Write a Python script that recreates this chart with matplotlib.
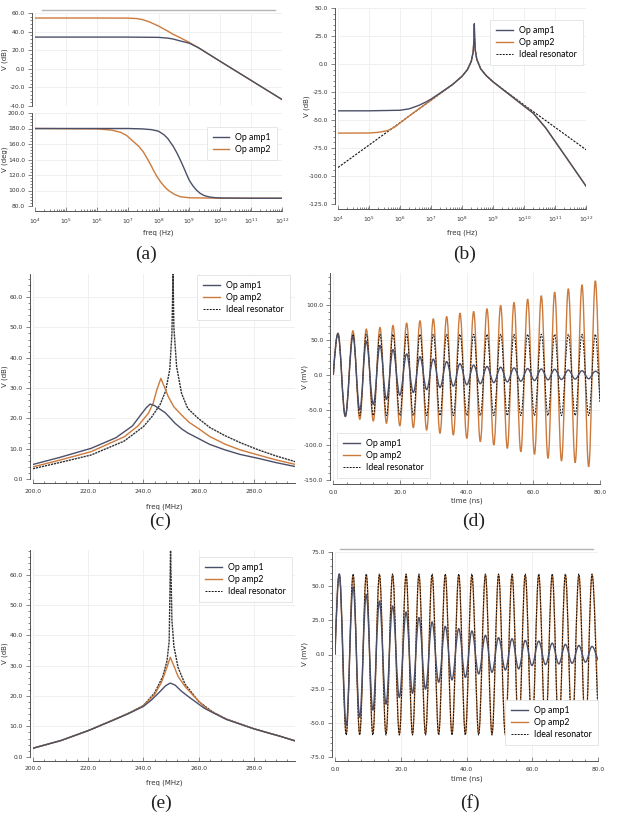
import matplotlib
matplotlib.use("Agg")
import matplotlib.pyplot as plt
from matplotlib.path import Path
from matplotlib.patches import PathPatch
from matplotlib.lines import Line2D
from matplotlib.ticker import (AutoMinorLocator, MultipleLocator, LogLocator, FixedLocator,
                               FormatStrFormatter, NullFormatter)

# ---------------- data ----------------
# (a) open loop gain / phase of the two op amps
fa_mag1 = [1e4, 1e5, 1e6, 1e7, 1e8, 2e8, 3e8, 5e8, 1e9, 2e9, 1e10, 1e11, 1e12]
mag_a1 = [34.1, 34.1, 34.1, 34.1, 33.8, 33.0, 32.0, 30.0, 27.5, 22.5, 8.0, -12.5, -33.0]
fa_mag2 = [1e4, 1e6, 1e7, 2e7, 3e7, 5e7, 1e8, 2e8, 3e8, 5e8, 1e9, 2e9, 1e10, 1e11, 1e12]
mag_a2 = [54.6, 54.6, 54.5, 54.0, 53.0, 50.5, 46.0, 40.5, 37.0, 33.5, 28.3, 22.5, 8.0, -12.5, -33.0]
fa_ph1 = [1e4, 1e7, 3e7, 6e7, 1e8, 1.5e8, 2e8, 3e8, 4e8, 5e8, 6e8, 7e8, 8e8, 1e9, 1.3e9,
          1.7e9, 2.2e9, 3e9, 4.5e9, 7e9, 1.2e10, 1e11, 1e12]
ph_a1 = [180, 180, 179.5, 178.5, 176.5, 172, 167, 157, 148, 140, 133, 127, 121.5, 113, 106,
         100.5, 96.5, 93.5, 91.6, 90.7, 90.3, 90, 90]
fa_ph2 = [1e4, 1e6, 3e6, 6e6, 9.3e6, 1.55e7, 2.3e7, 3.2e7, 4.5e7, 5.7e7, 6.9e7, 8.5e7,
          1e8, 1.2e8, 1.45e8, 1.8e8, 2.2e8, 3.3e8, 5e8, 1e9, 1e10, 1e12]
ph_a2 = [180, 179.5, 178, 175, 171, 163, 157, 150, 140, 132.5, 126, 119.5,
         115, 110.5, 106.5, 102.5, 99.5, 95, 92, 90.6, 90.1, 90]

# (b) resonator magnitude, wide band
fb_i = [1e4, 1e5, 1e6, 1e7, 5e7, 1e8, 1.5e8, 2e8, 2.3e8, 2.45e8, 2.5e8, 2.55e8, 2.7e8,
        3e8, 4e8, 6e8, 1e9, 1e10, 1e11, 1e12]
vb_i = [-92.4, -72.4, -52.4, -32.4, -18.3, -11.0, -5.0, 2.5, 11.1, 23.4, 36.0, 23.6, 11.8,
        4.2, -4.3, -10.3, -15.9, -36.5, -56.5, -76.5]
fb_1 = [1e4, 1e5, 1e6, 2e6, 4e6, 7e6, 1e7, 2e7, 5e7, 1e8, 1.5e8, 2e8, 2.3e8, 2.45e8,
        2.5e8, 2.55e8, 2.7e8, 3e8, 4e8, 6e8, 1e9, 1e10, 2e10, 5e10, 1e11, 3e11, 1e12]
vb_1 = [-41.8, -41.8, -41.3, -40.0, -37.0, -33.8, -31.3, -25.8, -18.2, -11.0, -5.0, 2.5,
        11.1, 23.4, 36.0, 23.6, 11.8, 4.2, -4.3, -10.3, -15.9, -37.5, -44.0, -57.0,
        -69.0, -88.0, -109.0]
fb_2 = [1e4, 1e5, 2e5, 4e5, 7e5, 1e6, 2e6, 4e6, 7e6, 1e7, 2e7, 5e7, 1e8, 1.5e8, 2e8,
        2.3e8, 2.45e8, 2.5e8, 2.55e8, 2.7e8, 3e8, 4e8, 6e8, 1e9, 1e10, 2e10, 5e10, 1e11,
        3e11, 1e12]
vb_2 = [-61.7, -61.6, -61.0, -59.5, -56.0, -52.6, -46.3, -40.2, -35.4, -32.3, -26.2,
        -18.3, -11.0, -5.0, 2.5, 11.0, 23.2, 32.0, 23.4, 11.8, 4.2, -4.3, -10.3, -15.9,
        -37.5, -44.0, -57.0, -69.0, -88.0, -109.0]

# (c) zoom around resonance, detuned op amps
fc_i = [200, 210, 221, 233, 240, 243, 246, 248, 249.5, 250.3, 250.7, 251, 252, 253.8,
        256, 259.8, 264, 269.5, 275, 281.6, 288, 295]
vc_i = [3.4, 5.5, 7.9, 12.5, 17.3, 20.5, 24.5, 29.0, 36.0, 48.0, 68.0, 50.0, 37.0, 28.2,
        23.3, 20.0, 17.0, 14.3, 12.0, 9.6, 7.6, 5.7]
fc_1 = [200, 210, 221, 230, 236, 239.3, 241, 242.4, 244, 246, 247.8, 249.5, 251.4, 254,
        256, 259.8, 264, 269.5, 275, 281.6, 288, 295]
vc_1 = [4.8, 7.2, 10.1, 13.6, 17.5, 21.5, 23.5, 24.7, 24.2, 23.0, 21.9, 20.3, 18.4, 16.4,
        15.2, 13.4, 11.4, 9.6, 8.1, 6.8, 5.4, 4.1]
fc_2 = [200, 210, 221, 233, 238, 241.8, 243.5, 244.8, 246.3, 247.5, 249, 251, 253.8,
        256.5, 259.8, 264, 269.5, 275, 281.6, 288, 295]
vc_2 = [4.0, 6.3, 9.0, 13.9, 17.5, 21.7, 25.0, 29.3, 33.2, 30.5, 27.1, 23.8, 21.1, 18.7,
        16.7, 14.0, 11.5, 9.6, 7.9, 6.3, 4.8]

# (e) zoom around resonance, compensated op amps
fe_i = [200, 210, 220, 230, 235, 240, 244, 247, 248.5, 249.3, 249.8, 250.3, 251, 252.5,
        255, 260, 265, 270, 280, 290, 295]
ve_i = [2.8, 5.3, 8.6, 12.5, 14.5, 16.9, 21.0, 26.5, 31.5, 38.0, 68.0, 45.0, 36.5, 29.5,
        24.0, 18.2, 14.8, 12.4, 9.2, 6.6, 5.2]
fe_1 = [200, 210, 220, 230, 235, 240, 243, 246, 248, 249.7, 251.5, 253.5, 256, 259, 262,
        265, 270, 280, 290, 295]
ve_1 = [2.8, 5.3, 8.6, 12.4, 14.4, 16.6, 18.8, 21.5, 23.4, 24.3, 23.6, 21.8, 20.0, 18.0,
        16.0, 14.6, 12.3, 9.2, 6.6, 5.2]
fe_2 = [200, 210, 220, 230, 235, 240, 244, 246.5, 248.3, 249.7, 251, 252.5, 255, 258,
        262, 265, 270, 280, 290, 295]
ve_2 = [2.8, 5.3, 8.6, 12.5, 14.5, 16.8, 20.5, 24.5, 29.0, 32.8, 30.0, 26.5, 23.2, 20.2,
        16.5, 14.7, 12.4, 9.2, 6.6, 5.2]

# (d) transient, detuned: peak / trough times (ns) and values (mV)
td_pk = [1.4, 5.9, 9.9, 14.0, 17.9, 22.0, 26.0, 30.0, 34.0, 38.0, 42.1, 46.1, 50.2, 54.2,
         58.3, 62.4, 66.4, 70.5, 74.6, 78.6]
td_tr = [3.6, 7.95, 12.0, 15.95, 19.95, 24.0, 28.0, 32.0, 36.0, 40.05, 44.1, 48.15, 52.2,
         56.25, 60.35, 64.4, 68.45, 72.55, 76.6]
d_ideal_pk = [58, 58, 58, 58, 58, 58, 58, 58, 58, 58, 58, 58, 58, 58, 58, 58, 58, 58, 58, 58]
d_ideal_tr = [-58, -58, -58, -58, -58, -58, -58, -58, -58, -58, -58, -58, -58, -58, -58,
              -58, -58, -58, -58]
d_amp2_pk = [59.5, 62.9, 65.3, 67.6, 70.5, 73.8, 77.1, 80.0, 83.3, 88.1, 90.5, 94.3, 99.0,
             103.3, 108.1, 112.9, 118.1, 122.9, 128.6, 134.3]
d_amp2_tr = [-59.5, -63.3, -65.7, -69.0, -72.4, -75.2, -78.6, -83.3, -85.7, -90.5, -95.2,
             -100.0, -104.8, -109.5, -113.3, -119.0, -122.8, -125.2, -131.0]
d_amp1_pk = [59.0, 55.0, 48.0, 42.0, 36.0, 30.0, 26.0, 22.5, 19.0, 16.0, 14.0, 12.0, 11.0,
             10.0, 9.0, 8.5, 8.0, 7.0, 6.0, 5.2]
d_amp1_tr = [-59.0, -50.0, -42.0, -35.0, -29.0, -25.0, -21.0, -18.0, -16.0, -14.0, -12.5,
             -11.0, -10.0, -9.0, -8.0, -7.0, -6.5, -6.0, -5.5]
d_end = {"ideal": -40.0, "amp2": -35.0, "amp1": 1.0}

# (f) transient, compensated
tf_pk = [1.3, 5.5, 9.5, 13.5, 17.5, 21.6, 25.5, 29.5, 33.5, 37.6, 41.6, 45.7, 49.7, 53.8,
         57.8, 61.9, 66.0, 70.0, 74.1, 78.1]
tf_tr = [3.4, 7.5, 11.5, 15.5, 19.55, 23.55, 27.5, 31.5, 35.55, 39.6, 43.65, 47.7, 51.75,
         55.8, 59.85, 63.95, 68.0, 72.05, 76.1]
f_ideal_pk = [59, 59, 59, 59, 59, 59, 59, 59, 59, 59, 59, 59, 59, 59, 59, 59, 59, 59, 59, 59]
f_ideal_tr = [-59, -59, -59, -59, -59, -59, -59, -59, -59, -59, -59, -59, -59, -59, -59,
              -59, -59, -59, -59]
f_amp2_pk = [58, 58, 58, 58, 58, 58, 58, 58, 58, 58, 58, 58, 58, 58, 58, 58, 58, 58, 58, 58]
f_amp2_tr = [-58, -58, -58, -58, -58, -58, -58, -58, -58, -58, -58, -58, -58, -58, -58,
             -58, -58, -58, -58]
f_amp1_pk = [59.0, 49.5, 44.0, 39.0, 35.5, 31.0, 27.0, 23.8, 20.6, 18.9, 17.2, 14.0, 12.3,
             11.5, 10.3, 9.8, 8.3, 7.4, 6.6, 5.9]
f_amp1_tr = [-52.0, -46.0, -40.7, -36.3, -31.4, -28.4, -25.2, -20.3, -18.6, -16.7, -14.2,
             -13.0, -11.3, -10.5, -8.0, -7.4, -6.9, -6.4, -5.6]
f_end = {"ideal": -52.0, "amp2": -40.0, "amp1": -4.4}

labels = ["Op amp1", "Op amp2", "Ideal resonator"]
decades = [1e4, 1e5, 1e6, 1e7, 1e8, 1e9, 1e10, 1e11, 1e12]

# ---------------- styling ----------------
C1 = "#4b5068"
C2 = "#cc7a3c"
CI = "#111111"
DASH = (0, (2.0, 1.2))
DENSE = (0, (1.6, 0.6))
W, H = 618, 819
TICK_FS = 4.3
LAB_FS = 5.0

fig = plt.figure(figsize=(W / 100, H / 100), dpi=100)


def add_ax(x0, x1, y0, y1):
    # pixel box -> figure fraction
    return fig.add_axes([x0 / W, 1 - y1 / H, (x1 - x0) / W, (y1 - y0) / H])


def style(ax, ymaj, ylim, xaxis=True):
    ax.set_ylim(*ylim)
    for s in ["top", "right"]:
        ax.spines[s].set_visible(False)
    ax.spines["left"].set_position(("outward", 2.2))
    ax.spines["bottom"].set_position(("outward", 3))
    for s in ["left", "bottom"]:
        ax.spines[s].set_color("#555555")
        ax.spines[s].set_linewidth(0.7)
    ax.yaxis.set_major_locator(MultipleLocator(ymaj))
    ax.yaxis.set_minor_locator(AutoMinorLocator(5))
    ax.yaxis.set_major_formatter(FormatStrFormatter("%.1f"))
    ax.tick_params(axis="y", which="both", direction="out", labelsize=TICK_FS,
                   colors="#555555", labelcolor="#333333", pad=2, width=0.5)
    ax.tick_params(axis="y", which="major", length=3)
    ax.tick_params(axis="y", which="minor", length=1.8)
    ax.tick_params(axis="x", which="both", direction="in", labelsize=TICK_FS,
                   colors="#555555", labelcolor="#333333", pad=4, width=0.5)
    ax.tick_params(axis="x", which="major", length=3)
    ax.tick_params(axis="x", which="minor", length=1.8)
    ax.grid(True, which="major", color="#eeeeee", lw=0.6)
    ax.set_axisbelow(True)
    if not xaxis:
        ax.spines["bottom"].set_visible(False)
        ax.tick_params(axis="x", which="both", bottom=False, labelbottom=False)


def log_x(ax):
    ax.set_xscale("log")
    ax.set_xlim(1e4, 1e12)
    ax.xaxis.set_major_locator(FixedLocator(decades))
    ax.xaxis.set_minor_locator(LogLocator(base=10, subs=range(2, 10), numticks=100))
    ax.xaxis.set_minor_formatter(NullFormatter())


def lin_x(ax, lo, hi, step):
    ax.set_xlim(lo, hi)
    ax.xaxis.set_major_locator(MultipleLocator(step))
    ax.xaxis.set_minor_locator(AutoMinorLocator(5))
    ax.xaxis.set_major_formatter(FormatStrFormatter("%.1f"))


def ylab(ax, text, px, box):
    x0, x1 = box
    ax.set_ylabel(text, fontsize=LAB_FS, color="#333333")
    ax.yaxis.set_label_coords((px - x0) / (x1 - x0), 0.5)


def xlab(ax, text, py, box):
    y0, y1 = box
    ax.set_xlabel(text, fontsize=LAB_FS, color="#333333")
    ax.xaxis.set_label_coords(0.5, (y1 - py) / (y1 - y0))


def handles(n):
    h = [Line2D([], [], color=C1, lw=1.0), Line2D([], [], color=C2, lw=1.0),
         Line2D([], [], color=CI, lw=0.7, ls=DASH)]
    return h[:n]


def legend(ax, n, loc, px, py):
    leg = ax.legend(handles(n), labels[:n], loc=loc,
                    bbox_to_anchor=(px / W, 1 - py / H),
                    bbox_transform=fig.transFigure,
                    prop={"family": "Lato", "size": 6.3},
                    frameon=True, fancybox=False, framealpha=1,
                    edgecolor="#e2e2e2", handlelength=1.9, handletextpad=0.7,
                    labelspacing=0.35, borderpad=0.7, borderaxespad=0)
    leg.get_frame().set_linewidth(0.6)


def merge(tp, vp, tt, vt, t_end, v_end):
    t, v = [0.0], [0.0]
    for i in range(len(tp)):
        t.append(tp[i]); v.append(vp[i])
        if i < len(tt):
            t.append(tt[i]); v.append(vt[i])
    t.append(t_end); v.append(v_end)
    return t, v


def wave(ax, t, v, **kw):
    # smooth Bezier through the read extrema (horizontal tangents at each one)
    verts = [(t[0], v[0])]
    codes = [Path.MOVETO]
    n = len(t) - 1
    for i in range(n):
        d = t[i + 1] - t[i]
        if i == 0:
            c1 = (t[i] + d / 3, v[i] + (v[i + 1] - v[i]) * 0.52)
        else:
            c1 = (t[i] + 0.36 * d, v[i])
        if i == n - 1:
            c2 = (t[i + 1] - d / 3, v[i + 1] + (v[i] - v[i + 1]) * 0.3)
        else:
            c2 = (t[i + 1] - 0.36 * d, v[i + 1])
        verts += [c1, c2, (t[i + 1], v[i + 1])]
        codes += [Path.CURVE4] * 3
    ax.add_patch(PathPatch(Path(verts, codes), fill=False, **kw))


# ---------------- (a) ----------------
bx = (35, 282)
ax = add_ax(35, 282, 13, 106)
style(ax, 20, (-40, 60), xaxis=False)
log_x(ax)
ax.plot(fa_mag2, mag_a2, color=C2, lw=1.0)
ax.plot(fa_mag1, mag_a1, color=C1, lw=1.0)
ylab(ax, "V (dB)", 8, bx)

ax = add_ax(35, 282, 113, 206)
style(ax, 20, (80, 200))
ax.spines["bottom"].set_position(("outward", 3.6))
log_x(ax)
ax.plot(fa_ph2, ph_a2, color=C2, lw=1.0)
ax.plot(fa_ph1, ph_a1, color=C1, lw=1.0)
ylab(ax, "V (deg)", 8, bx)
xlab(ax, "freq (Hz)", 229, (113, 206))
legend(ax, 2, "upper right", 277, 127)

# ---------------- (b) ----------------
bx = (338, 586)
ax = add_ax(338, 586, 8, 204)
style(ax, 25, (-125, 50))
ax.spines["bottom"].set_position(("outward", 3.6))
log_x(ax)
ax.plot(fb_i, vb_i, color=CI, lw=0.8, ls=DASH)
ax.plot(fb_2, vb_2, color=C2, lw=1.0)
ax.plot(fb_1, vb_1, color=C1, lw=1.0)
ylab(ax, "V (dB)", 310, bx)
xlab(ax, "freq (Hz)", 229, (8, 204))
legend(ax, 3, "upper right", 583, 20)

# ---------------- (c) ----------------
bx = (33, 295.4)
ax = add_ax(33, 295.4, 274.3, 479)
style(ax, 10, (0, 67.5))
lin_x(ax, 200, 295, 20)
ax.plot(fc_i, vc_i, color="#333333", lw=1.0, ls=DENSE)
ax.plot(fc_2, vc_2, color=C2, lw=1.0)
ax.plot(fc_1, vc_1, color=C1, lw=1.0)
ylab(ax, "V (dB)", 8, bx)
xlab(ax, "freq (MHz)", 503, (274.3, 479))
legend(ax, 3, "upper right", 290, 275)

# ---------------- (d) ----------------
bx = (333.3, 600)
ax = add_ax(333.3, 600, 273.3, 480)
style(ax, 50, (-150, 145))
lin_x(ax, 0, 80, 20)
wave(ax, *merge(td_pk, d_amp2_pk, td_tr, d_amp2_tr, 80, d_end["amp2"]), ec=C2, lw=1.0)
wave(ax, *merge(td_pk, d_ideal_pk, td_tr, d_ideal_tr, 80, d_end["ideal"]), ec=CI, lw=0.7,
     ls=DASH)
wave(ax, *merge(td_pk, d_amp1_pk, td_tr, d_amp1_tr, 80, d_end["amp1"]), ec=C1, lw=1.0)
ylab(ax, "V (mV)", 308, bx)
xlab(ax, "time (ns)", 497, (273.3, 480))
legend(ax, 3, "lower left", 337, 478)

# ---------------- (e) ----------------
bx = (33, 295.4)
ax = add_ax(33, 295.4, 550, 756.7)
style(ax, 10, (0, 68.2))
lin_x(ax, 200, 295, 20)
ax.plot(fe_i, ve_i, color="#333333", lw=1.0, ls=DENSE)
ax.plot(fe_2, ve_2, color=C2, lw=1.0)
ax.plot(fe_1, ve_1, color=C1, lw=1.0)
ylab(ax, "V (dB)", 8, bx)
xlab(ax, "freq (MHz)", 780, (550, 756.7))
legend(ax, 3, "upper right", 292, 557)

# ---------------- (f) ----------------
bx = (335, 598.3)
ax = add_ax(335, 598.3, 552, 757)
style(ax, 25, (-75, 75))
lin_x(ax, 0, 80, 20)
wave(ax, *merge(tf_pk, f_amp2_pk, tf_tr, f_amp2_tr, 80, f_end["amp2"]), ec=C2, lw=1.0)
wave(ax, *merge(tf_pk, f_ideal_pk, tf_tr, f_ideal_tr, 80, f_end["ideal"]), ec=CI, lw=0.7,
     ls=DASH)
wave(ax, *merge(tf_pk, f_amp1_pk, tf_tr, f_amp1_tr, 80, f_end["amp1"]), ec=C1, lw=1.0)
ylab(ax, "V (mV)", 308, bx)
xlab(ax, "time (ns)", 775, (552, 757))
legend(ax, 3, "lower right", 598, 745)

# thin grey frame remnants at the top of (a) and (f)
fig.add_artist(Line2D([42 / W, 275 / W], [1 - 10 / H] * 2, color="#b5b5b5", lw=1.0))
fig.add_artist(Line2D([340 / W, 593 / W], [1 - 549 / H] * 2, color="#b5b5b5", lw=1.0))

# panel letters
for txt, x, y in [("(a)", 146, 254), ("(b)", 465, 254), ("(c)", 160, 521),
                  ("(d)", 474, 521), ("(e)", 161, 803), ("(f)", 470, 803)]:
    fig.text(x / W, 1 - y / H, txt, ha="center", va="center", fontsize=14,
             family="Liberation Serif", color="#222222")

fig.savefig("out.png", dpi=100)
